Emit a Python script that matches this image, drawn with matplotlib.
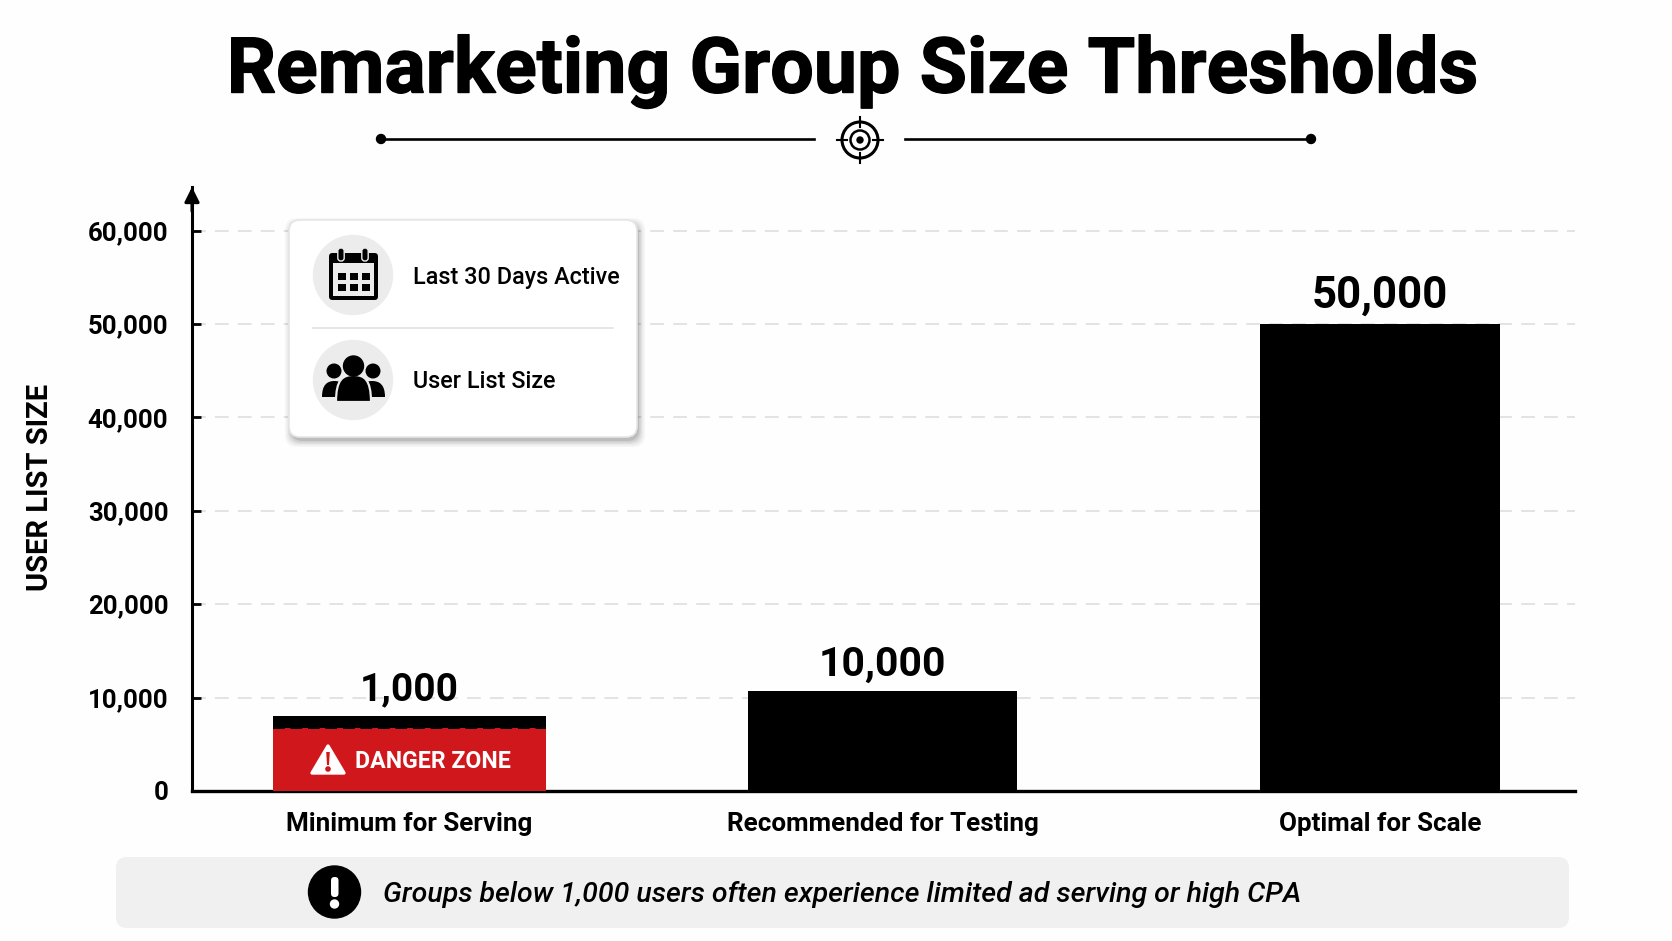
"""Remarketing group size thresholds -> out.png"""

from __future__ import annotations

import matplotlib

matplotlib.use("Agg")

import matplotlib.patheffects as pe
import matplotlib.pyplot as plt
from matplotlib.patches import Circle, FancyBboxPatch, PathPatch, Polygon, Rectangle
from matplotlib.path import Path

plt.rcParams["font.family"] = ["Roboto", "DejaVu Sans"]

# data
TITLE = "Remarketing Group Size Thresholds"
CATEGORIES = ["Minimum for Serving", "Recommended for Testing", "Optimal for Scale"]
BAR_HEIGHTS = [8000, 10700, 50000]  # as drawn, the bars don't follow their labels
BAR_LABELS = ["1,000", "10,000", "50,000"]
DANGER_HEIGHT = [6700]
Y_TICKS = [0, 10000, 20000, 30000, 40000, 50000, 60000]
LEGEND_ITEMS = ["Last 30 Days Active", "User List Size"]
DANGER_TEXT = "DANGER ZONE"
FOOTER_TEXT = "Groups below 1,000 users often experience limited ad serving or high CPA"
Y_LABEL = "USER LIST SIZE"

# layout (pixels)
W, H = 1672, 941
AX_LEFT, AX_RIGHT, AX_TOP, AX_BOTTOM = 192, 1575, 187, 791
PX_PER_UNIT = 93.4 / 10000
BAR_CENTERS = [409.5, 882.5, 1380]
BAR_WIDTHS = [273, 269, 240]
LABEL_SIZES = [28, 29.5, 31.5]
RED = "#d0181c"
BG = "#fefefe"


def dome(x0, x1, ytop, ybot, **kw):
    """Rounded top shape used for the people icon."""
    xm = (x0 + x1) / 2
    verts = [(x0, ybot), (x0, ytop + 4), (xm - (x1 - x0) * 0.3, ytop), (xm, ytop),
             (xm + (x1 - x0) * 0.3, ytop), (x1, ytop + 4), (x1, ybot), (x0, ybot)]
    codes = [Path.MOVETO, Path.CURVE4, Path.CURVE4, Path.CURVE4,
             Path.CURVE4, Path.CURVE4, Path.CURVE4, Path.CLOSEPOLY]
    return PathPatch(Path(verts, codes), **kw)


def rbox(x0, y0, x1, y1, r, **kw):
    return FancyBboxPatch((x0 + r, y0 + r), x1 - x0 - 2 * r, y1 - y0 - 2 * r,
                          boxstyle=f"round,pad={r},rounding_size={r}", **kw)


def draw_chart(fig):
    ax = fig.add_axes([AX_LEFT / W, 1 - AX_BOTTOM / H,
                       (AX_RIGHT - AX_LEFT) / W, (AX_BOTTOM - AX_TOP) / H])
    ax.set_facecolor("none")
    ax.set_xlim(AX_LEFT, AX_RIGHT)
    ax.set_ylim(0, (AX_BOTTOM - AX_TOP) / PX_PER_UNIT)

    for spine in ("top", "right"):
        ax.spines[spine].set_visible(False)
    ax.spines["left"].set_linewidth(2.2)
    ax.spines["bottom"].set_linewidth(2.4)

    ax.set_axisbelow(True)
    ax.grid(axis="y", color="#dcdcdc", linewidth=1.1, linestyle=(0, (9, 6)))
    ax.bar(BAR_CENTERS, BAR_HEIGHTS, BAR_WIDTHS, color="black", zorder=2)
    ax.bar(BAR_CENTERS[:1], DANGER_HEIGHT, BAR_WIDTHS[:1], color=RED, zorder=3)
    ax.plot([BAR_CENTERS[0] - BAR_WIDTHS[0] / 2, BAR_CENTERS[0] + BAR_WIDTHS[0] / 2],
            [DANGER_HEIGHT[0]] * 2, color="black", linewidth=1.4,
            linestyle=(0, (6, 3)), zorder=4)

    for x, height, label, size in zip(BAR_CENTERS, BAR_HEIGHTS, BAR_LABELS, LABEL_SIZES, strict=True):
        ax.annotate(label, (x, height), xytext=(0, 5.5), textcoords="offset points",
                    ha="center", va="bottom", fontsize=size, fontweight="bold", zorder=5)

    ax.set_yticks(Y_TICKS)
    ax.set_yticklabels([f"{v:,}" for v in Y_TICKS], fontsize=18.5, fontweight="bold")
    ax.set_xticks(BAR_CENTERS)
    ax.set_xticklabels(CATEGORIES, fontsize=18.7, fontweight="bold")
    ax.tick_params(axis="y", direction="in", length=6.5, width=2, pad=17)
    ax.tick_params(axis="x", length=0, pad=15)

    # arrow on top of the y axis
    ax.annotate("", xy=(AX_LEFT, 1.0), xytext=(AX_LEFT, 0.96),
                xycoords=("data", "axes fraction"), textcoords=("data", "axes fraction"),
                arrowprops=dict(arrowstyle="-|>", color="black", lw=2.2, mutation_scale=22,
                                shrinkA=0, shrinkB=0))
    return ax


def draw_header(ov):
    ov.text(853, 71, TITLE, ha="center", va="center", fontsize=55.5, fontweight="bold",
            path_effects=[pe.withStroke(linewidth=1, foreground="black")])
    ov.plot([381, 814], [139, 139], color="black", lw=1.9)
    ov.plot([905, 1311], [139, 139], color="black", lw=1.9)
    ov.add_patch(Circle((381, 139), 4.5, color="black"))
    ov.add_patch(Circle((1311, 139), 4.5, color="black"))
    # target icon
    cx, cy = 860, 140
    ov.add_patch(Circle((cx, cy), 18, fill=False, ec="black", lw=2.2))
    ov.add_patch(Circle((cx, cy), 9.5, fill=False, ec="black", lw=1.8))
    ov.add_patch(Circle((cx, cy), 3, color="black"))
    for dx, dy in [(1, 0), (-1, 0), (0, 1), (0, -1)]:
        ov.plot([cx + dx * 13, cx + dx * 23], [cy + dy * 13, cy + dy * 23], color="black", lw=1.5)


def draw_card(ov):
    # soft shadow
    for grow, alpha in [(6, 0.03), (4.5, 0.04), (3, 0.05), (1.5, 0.07), (0, 0.09)]:
        ov.add_patch(rbox(289 + 2 - grow, 220 + 4 - grow, 637 + 2 + grow, 437 + 4 + grow, 12,
                          fc="black", ec="none", alpha=alpha))
    ov.add_patch(rbox(289, 220, 637, 437, 11, fc="white", ec="#e6e6e6", lw=1.2))
    ov.plot([313, 613], [328, 328], color="#e2e2e2", lw=1.2)
    ov.add_patch(Circle((353, 275), 39.5, color="#ececec"))
    ov.add_patch(Circle((353, 380), 39.5, color="#ececec"))
    for text, y in zip(LEGEND_ITEMS, [277.5, 381.5], strict=True):
        ov.text(413, y, text, ha="left", va="center", fontsize=16.8, fontweight="medium")

    # calendar icon
    ov.add_patch(rbox(329, 253, 378, 300, 3.5, fc="black", ec="none"))
    ov.add_patch(Rectangle((333, 263), 41, 33, fc="#ececec", ec="none"))
    for x in (341, 365):
        ov.add_patch(rbox(x - 3.2, 248, x + 3.2, 261, 3, fc="black", ec="#ececec", lw=1))
    for x in (338, 350, 362):
        for y in (272.5, 284):
            ov.add_patch(Rectangle((x, y), 7.5, 7, fc="black", ec="none"))

    # people icon
    ov.add_patch(Circle((334, 371), 6.8, color="black"))
    ov.add_patch(Circle((373, 371), 6.8, color="black"))
    ov.add_patch(dome(322, 347, 381, 397, fc="black", ec="none"))
    ov.add_patch(dome(359, 385, 381, 397, fc="black", ec="none"))
    ov.add_patch(dome(336, 371, 375, 402, fc="black", ec="#ececec", lw=1.6))
    ov.add_patch(Circle((353.5, 366), 10, color="black"))


def draw_danger(ov):
    ov.add_patch(Polygon([(328, 746), (312, 773), (344, 773)], closed=True, fc="white",
                         ec="white", lw=2.4, joinstyle="round"))
    ov.add_patch(Polygon([(326.2, 752), (329.8, 752), (329, 765), (327, 765)], closed=True,
                         fc=RED, ec="none"))
    ov.add_patch(Circle((328, 769), 2.1, color=RED))
    ov.text(355, 762, DANGER_TEXT, ha="left", va="center", color="white",
            fontsize=16.7, fontweight="bold")


def draw_footer(ov):
    ov.add_patch(rbox(116, 857, 1569, 928, 11, fc="#f0f0f0", ec="none"))
    ov.add_patch(Circle((334.5, 892), 26, color="black"))
    ov.add_patch(rbox(331, 877, 338.5, 897, 3.5, fc="white", ec="none"))
    ov.add_patch(Circle((334.5, 904), 4, color="white"))
    ov.text(383, 894, FOOTER_TEXT, ha="left", va="center", fontsize=20.5,
            fontstyle="italic", fontweight="medium")


def draw_labels(ov):
    ov.text(40, 487, Y_LABEL, rotation=90, ha="center", va="center",
            fontsize=21, fontweight="bold")


def main() -> None:
    fig = plt.figure(figsize=(W / 100, H / 100), dpi=100, facecolor=BG)
    draw_chart(fig)

    # overlay in pixel coordinates for everything that isn't data
    ov = fig.add_axes([0, 0, 1, 1], zorder=5)
    ov.set_xlim(0, W)
    ov.set_ylim(H, 0)
    ov.axis("off")
    draw_header(ov)
    draw_card(ov)
    draw_danger(ov)
    draw_footer(ov)
    draw_labels(ov)

    fig.savefig("out.png", dpi=100, facecolor=BG)
    plt.close(fig)


if __name__ == "__main__":
    main()
